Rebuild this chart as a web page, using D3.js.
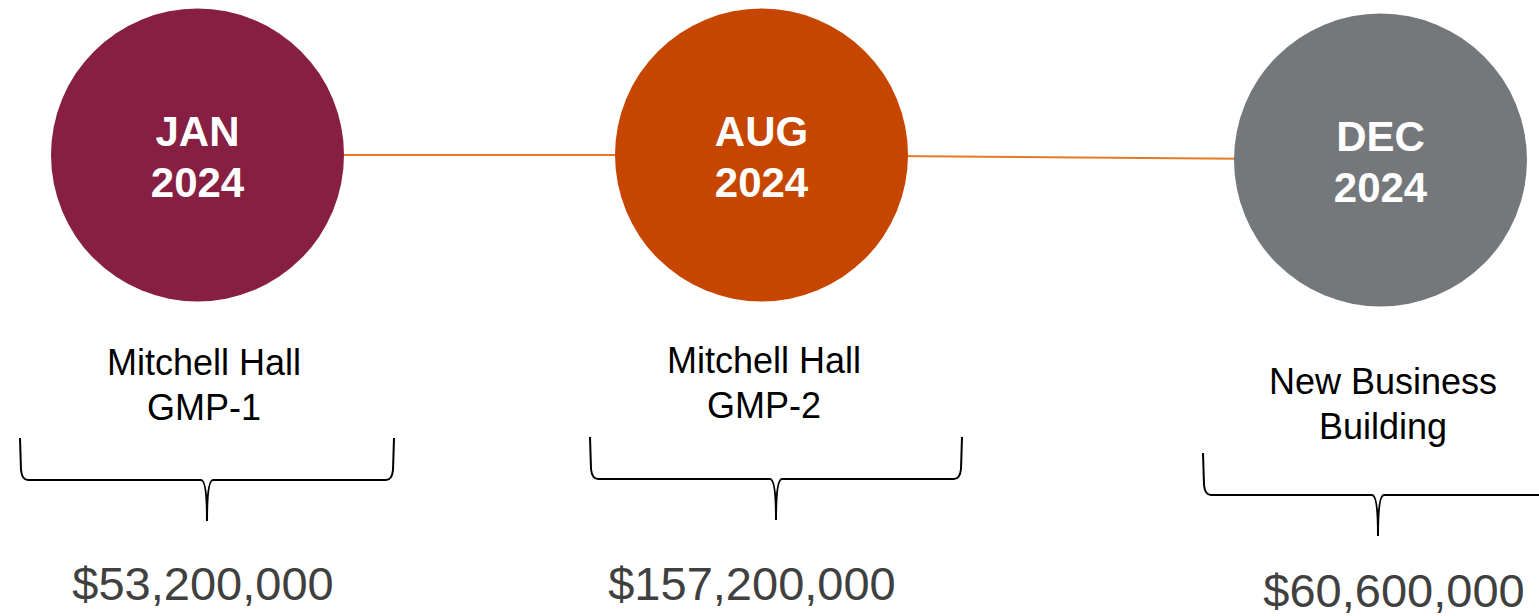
<!DOCTYPE html>
<html>
<head>
<meta charset="utf-8">
<script src="https://cdn.jsdelivr.net/npm/d3@7"></script>
<style>
	body { margin: 0; background: #fff; }
	svg { display: block; font-family: "Liberation Sans", Arial, sans-serif; }
</style>
</head>
<body>
<div id="timeline"></div>
<script>
// Data
const months = ["JAN", "AUG", "DEC"];
const years = ["2024", "2024", "2024"];
const projects = [["Mitchell Hall", "GMP-1"], ["Mitchell Hall", "GMP-2"], ["New Business", "Building"]];
const amounts = [53200000, 157200000, 60600000];
const colors = ["#861F41", "#C64600", "#75787B"];

const w = 1539;
const h = 616;

// Layout scales (one entry per milestone)
const circleX = d3.scaleOrdinal().domain(months).range([197.5, 761.5, 1380.5]);
const labelX = d3.scaleOrdinal().domain(months).range([204, 764, 1383]);
const braceX = d3.scaleOrdinal().domain(months).range([207, 776, 1378]);
const braceHalf = d3.scaleOrdinal().domain(months).range([187, 186, 175]);
const valueX = d3.scaleOrdinal().domain(months).range([203, 752, 1394]);
const labelShift = d3.scaleOrdinal().domain(months).range([0, -2, 19]);
const braceShift = d3.scaleOrdinal().domain(months).range([0, -1, 15]);
const valueShift = d3.scaleOrdinal().domain(months).range([0, 0, 7]);
const circleShift = d3.scaleOrdinal().domain(months).range([0, 0, 5]);
const r = 146.5;
const cy = 155;

const fmt = d3.format("$,");

const items = months.map((m, i) => ({ month: m, year: years[i], name: projects[i], amount: amounts[i], color: colors[i] }));

const svg = d3.select("#timeline")
	.append("svg")
	.attr("width", w)
	.attr("height", h);

// Connecting line behind circles
svg.append("path")
	.attr("d", d3.line().x(d => circleX(d.month)).y(d => cy + circleShift(d.month))(items))
	.attr("fill", "none")
	.attr("stroke", "#E87722")
	.attr("stroke-width", 2);

const g = svg.selectAll("g.item")
	.data(items)
	.enter()
	.append("g")
	.attr("class", "item");

g.append("circle")
	.attr("cx", d => circleX(d.month))
	.attr("cy", d => cy + circleShift(d.month))
	.attr("r", r)
	.attr("fill", d => d.color);

g.append("text")
	.attr("x", d => circleX(d.month))
	.attr("y", d => 146 + circleShift(d.month))
	.attr("text-anchor", "middle")
	.attr("fill", "#fff")
	.attr("font-weight", "bold")
	.attr("font-size", 42)
	.text(d => d.month);

g.append("text")
	.attr("x", d => circleX(d.month))
	.attr("y", d => 197 + circleShift(d.month))
	.attr("text-anchor", "middle")
	.attr("fill", "#fff")
	.attr("font-weight", "bold")
	.attr("font-size", 42)
	.text(d => d.year);

// Project names
g.each(function (d) {
	const t = d3.select(this);
	d.name.forEach((line, j) => {
		t.append("text")
			.attr("x", labelX(d.month))
			.attr("y", 375 + labelShift(d.month) + j * 45)
			.attr("text-anchor", "middle")
			.attr("fill", "#000")
			.attr("font-size", 36)
			.text(line);
	});
});

// Curly braces
const brace = (cx, top, hw) => {
	const mid = top + 42, tip = top + 83;
	return `M${cx - hw},${top} L${cx - hw + 1},${mid - 10} Q${cx - hw + 2},${mid} ${cx - hw + 8},${mid}`
		+ ` L${cx - 6},${mid} Q${cx},${mid} ${cx},${tip}`
		+ ` Q${cx},${mid} ${cx + 6},${mid} L${cx + hw - 8},${mid}`
		+ ` Q${cx + hw - 2},${mid} ${cx + hw - 1},${mid - 10} L${cx + hw},${top}`;
};

g.append("path")
	.attr("d", d => brace(braceX(d.month), 438 + braceShift(d.month), braceHalf(d.month)))
	.attr("fill", "none")
	.attr("stroke", "#000")
	.attr("stroke-width", 2);

// Amounts
g.append("text")
	.attr("x", d => valueX(d.month))
	.attr("y", d => 600 + valueShift(d.month))
	.attr("text-anchor", "middle")
	.attr("fill", "#404040")
	.attr("font-size", 47)
	.text(d => fmt(d.amount));
</script>
</body>
</html>
